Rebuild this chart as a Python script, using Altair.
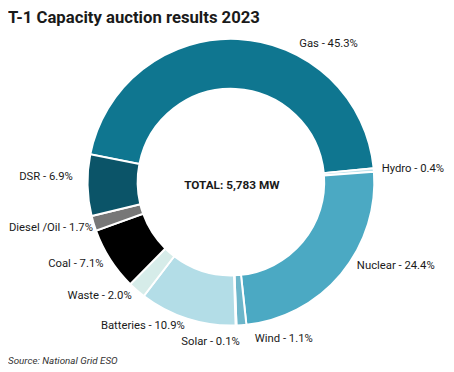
import math
import altair as alt
import pandas as pd

# ---- data ----
categories = ["Gas", "Hydro", "Nuclear", "Wind", "Solar", "Batteries",
              "Waste", "Coal", "Diesel /Oil", "DSR"]
shares = [45.3, 0.4, 24.4, 1.1, 0.1, 10.9, 2.0, 7.1, 1.7, 6.9]
colors = ["#0f7690", "#bfe3ec", "#4ba9c3", "#6db6ca", "#a9d6e2", "#b3dde7",
          "#d6ece9", "#000000", "#777777", "#0b5468"]
title_text = "T-1 Capacity auction results 2023"
total_text = "TOTAL: 5,783 MW"
source_text = "Source: National Grid ESO"

# ---- layout / style ----
W, H = 446, 364
CX, CY = 227, 174
R_OUT, R_IN, R_LAB = 146, 95, 154
START = math.radians(-78.8)
FONT = "Roboto, Liberation Sans, sans-serif"
TXT = "#1a1a1a"
LABEL_SIZE = 11.5
# small label nudges (dx, dy) to follow the hand placement in the reference
nudge = {"Gas": (62, 13), "Nuclear": (10, -13), "Wind": (13, 6),
         "Solar": (-56, 9), "DSR": (-7, -8), "Diesel /Oil": (7, 2)}

total = sum(shares)
df = pd.DataFrame({
    "category": categories,
    "share": shares,
    "idx": list(range(len(categories))),
    "label": [f"{c} - {s:.1f}%" for c, s in zip(categories, shares)],
})

theta_scale = alt.Scale(domain=[0, total], range=[START, START + 2 * math.pi])

arcs = alt.Chart(df).mark_arc(
    radius=R_OUT, radius2=R_IN, stroke="white", strokeWidth=2
).encode(
    theta=alt.Theta("share:Q", stack=True, scale=theta_scale),
    color=alt.Color("category:N", scale=alt.Scale(domain=categories, range=colors), legend=None),
    order=alt.Order("idx:Q"),
    x=alt.value(CX),
    y=alt.value(CY),
)

label_base = alt.Chart(df).transform_window(
    cum="sum(share)", sort=[alt.SortField("idx")], frame=[None, 0]
).transform_calculate(mid="datum.cum - datum.share / 2")

layers = [arcs]
cum = 0.0
for c, s in zip(categories, shares):
    mid = cum + s / 2
    cum += s
    side_right = ((math.degrees(START) + mid / total * 360) % 360) < 180
    dx, dy = nudge.get(c, (0, 0))
    layers.append(
        label_base.transform_filter(alt.datum.category == c).mark_text(
            radius=R_LAB, align="left" if side_right else "right", baseline="middle",
            dx=dx, dy=dy, font=FONT, fontSize=LABEL_SIZE, color=TXT,
        ).encode(
            theta=alt.Theta("mid:Q", stack=False, scale=theta_scale),
            text="label:N",
            x=alt.value(CX),
            y=alt.value(CY),
        )
    )

total_layer = alt.Chart(pd.DataFrame({"t": [total_text]})).mark_text(
    font=FONT, fontSize=12, fontWeight="bold", color=TXT, align="center", baseline="middle"
).encode(text="t:N", x=alt.value(CX + 1), y=alt.value(CY + 3))

title_layer = alt.Chart(pd.DataFrame({"t": [title_text]})).mark_text(
    font=FONT, fontSize=17, fontWeight="bold", color=TXT, align="left", baseline="top"
).encode(text="t:N", x=alt.value(0), y=alt.value(-1))

source_layer = alt.Chart(pd.DataFrame({"t": [source_text]})).mark_text(
    font=FONT, fontSize=10, fontStyle="italic", color="#333333", align="left", baseline="middle"
).encode(text="t:N", x=alt.value(0), y=alt.value(H - 8))

chart = alt.layer(*layers, total_layer, title_layer, source_layer).properties(
    width=W, height=H, autosize=alt.AutoSizeParams(type="none"), padding=0
).configure_view(stroke=None)

chart.save("out.html", embed_options={"renderer": "svg", "actions": False})
